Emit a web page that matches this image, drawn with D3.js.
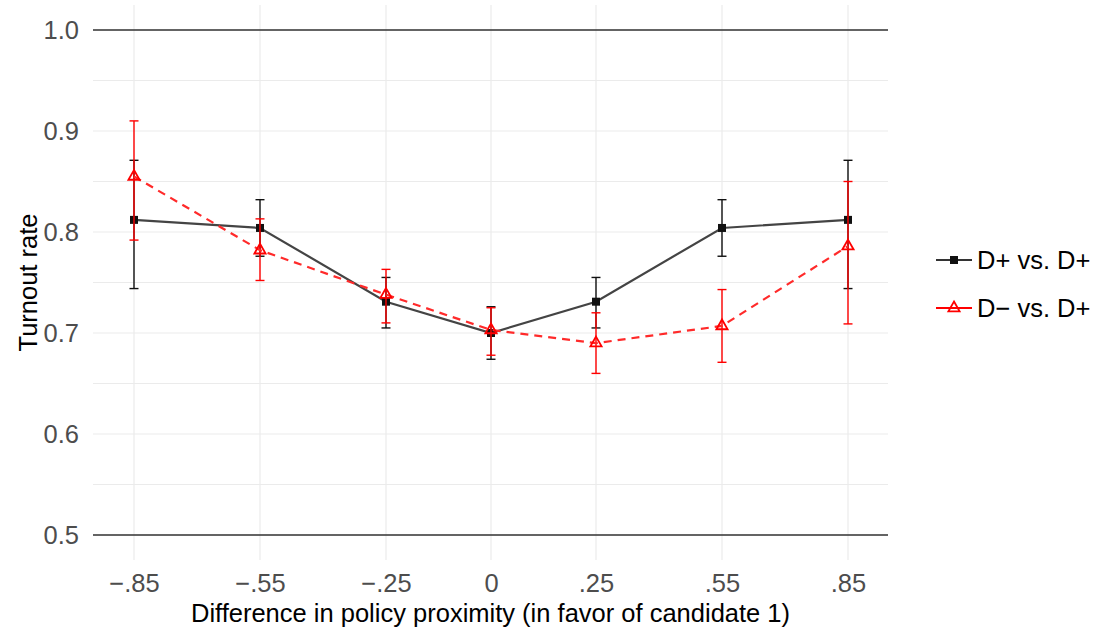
<!DOCTYPE html>
<html>
<head>
<meta charset="utf-8">
<script src="https://cdn.jsdelivr.net/npm/d3@7"></script>
<style>
  body { margin: 0; background: #fff; }
  svg { font-family: "Liberation Sans", Arial, sans-serif; }
</style>
</head>
<body>
<svg width="1096" height="632"></svg>
<script>
const xValues = [-0.85, -0.55, -0.25, 0, 0.25, 0.55, 0.85];
const xLabels = ["\u2212.85", "\u2212.55", "\u2212.25", "0", ".25", ".55", ".85"];
const yTicks = [0.5, 0.6, 0.7, 0.8, 0.9, 1.0];

// D+ vs. D+
const plusMean = [0.812, 0.804, 0.731, 0.700, 0.731, 0.804, 0.812];
const plusLow  = [0.744, 0.776, 0.705, 0.674, 0.705, 0.776, 0.744];
const plusHigh = [0.871, 0.832, 0.755, 0.726, 0.755, 0.832, 0.871];

// D- vs. D+
const minusMean = [0.855, 0.782, 0.738, 0.703, 0.690, 0.707, 0.786];
const minusLow  = [0.792, 0.752, 0.710, 0.678, 0.660, 0.671, 0.709];
const minusHigh = [0.910, 0.813, 0.763, 0.725, 0.720, 0.743, 0.850];

const seriesNames = ["D+ vs. D+", "D\u2212 vs. D+"];

const fontSize = 25.5;
const panel = {left: 93, right: 888, top: 5, bottom: 560};

const x = d3.scaleLinear().domain([-0.85, 0.85]).range([134, 848]);
const y = d3.scaleLinear().domain([0.5, 1.0]).range([535, 30]);

const svg = d3.select("svg");

// grid
const grid = svg.append("g");
grid.selectAll(".hgrid")
  .data(d3.range(0.5, 1.0001, 0.05))
  .enter().append("line")
  .attr("x1", panel.left).attr("x2", panel.right)
  .attr("y1", d => y(d)).attr("y2", d => y(d))
  .attr("stroke", "#ebebeb").attr("stroke-width", 1.2);
grid.selectAll(".vgrid")
  .data(xValues)
  .enter().append("line")
  .attr("x1", d => x(d)).attr("x2", d => x(d))
  .attr("y1", panel.top).attr("y2", panel.bottom)
  .attr("stroke", "#ebebeb").attr("stroke-width", 1.2);

// reference lines at 0.5 and 1.0
svg.append("g").selectAll("line")
  .data([0.5, 1.0])
  .enter().append("line")
  .attr("x1", panel.left).attr("x2", panel.right)
  .attr("y1", d => y(d)).attr("y2", d => y(d))
  .attr("stroke", "#333").attr("stroke-width", 1.3);

// axes (text only, ggplot minimal style)
const yAxis = d3.axisLeft(y).tickValues(yTicks).tickFormat(d3.format(".1f")).tickSize(0).tickPadding(14);
svg.append("g")
  .attr("transform", `translate(${panel.left},0)`)
  .call(yAxis)
  .call(g => g.select(".domain").remove())
  .selectAll("text")
  .attr("font-size", fontSize).attr("fill", "#4d4d4d")
  .attr("font-family", "Liberation Sans, Arial, sans-serif");

const xAxis = d3.axisBottom(x).tickValues(xValues).tickFormat((d, i) => xLabels[i]).tickSize(0).tickPadding(14);
svg.append("g")
  .attr("transform", `translate(0,${panel.bottom})`)
  .call(xAxis)
  .call(g => g.select(".domain").remove())
  .selectAll("text")
  .attr("font-size", fontSize).attr("fill", "#4d4d4d")
  .attr("font-family", "Liberation Sans, Arial, sans-serif");

svg.append("text")
  .attr("x", (panel.left + panel.right) / 2).attr("y", 622)
  .attr("text-anchor", "middle").attr("font-size", fontSize).attr("fill", "#000")
  .text("Difference in policy proximity (in favor of candidate 1)");

svg.append("text")
  .attr("transform", `translate(37,${(y(0.5) + y(1.0)) / 2}) rotate(-90)`)
  .attr("text-anchor", "middle").attr("font-size", fontSize).attr("fill", "#000")
  .text("Turnout rate");

function drawSeries(mean, low, high, opts) {
  const g = svg.append("g");
  const rows = xValues.map((v, i) => ({x: v, m: mean[i], lo: low[i], hi: high[i]}));
  const cap = 4.5;

  g.selectAll(".eb").data(rows).enter().append("line")
    .attr("x1", d => x(d.x)).attr("x2", d => x(d.x))
    .attr("y1", d => y(d.lo)).attr("y2", d => y(d.hi))
    .attr("stroke", opts.barColor).attr("stroke-width", 1.4);
  g.selectAll(".capHi").data(rows).enter().append("line")
    .attr("x1", d => x(d.x) - cap).attr("x2", d => x(d.x) + cap)
    .attr("y1", d => y(d.hi)).attr("y2", d => y(d.hi))
    .attr("stroke", opts.barColor).attr("stroke-width", 1.4);
  g.selectAll(".capLo").data(rows).enter().append("line")
    .attr("x1", d => x(d.x) - cap).attr("x2", d => x(d.x) + cap)
    .attr("y1", d => y(d.lo)).attr("y2", d => y(d.lo))
    .attr("stroke", opts.barColor).attr("stroke-width", 1.4);

  g.append("path")
    .datum(rows)
    .attr("d", d3.line().x(d => x(d.x)).y(d => y(d.m)))
    .attr("fill", "none")
    .attr("stroke", opts.lineColor)
    .attr("stroke-width", 2.2)
    .attr("stroke-dasharray", opts.dash);

  g.selectAll(".pt").data(rows).enter().append("path")
    .attr("transform", d => `translate(${x(d.x)},${y(d.m)})`)
    .attr("d", opts.shape)
    .attr("fill", opts.fill)
    .attr("stroke", opts.barColor)
    .attr("stroke-width", opts.fill === "none" ? 1.8 : 0);
}

const squarePath = "M-4,-4H4V4H-4Z";
const trianglePath = "M0,-6.5L5.6,3.3H-5.6Z";

drawSeries(plusMean, plusLow, plusHigh,
  {barColor: "#111", lineColor: "#444", dash: null, shape: squarePath, fill: "#111"});
drawSeries(minusMean, minusLow, minusHigh,
  {barColor: "#ff0000", lineColor: "#ff2a2a", dash: "8,6", shape: trianglePath, fill: "none"});

// legend
const legend = svg.append("g");
const legendRows = [
  {name: seriesNames[0], color: "#111", line: "#333", shape: squarePath, fill: "#111"},
  {name: seriesNames[1], color: "#ff0000", line: "#ff0000", shape: trianglePath, fill: "none"}
];
legendRows.forEach((r, i) => {
  const cy = 260 + i * 48;
  legend.append("line")
    .attr("x1", 936).attr("x2", 972).attr("y1", cy).attr("y2", cy)
    .attr("stroke", r.line).attr("stroke-width", 2);
  legend.append("path")
    .attr("transform", `translate(954,${cy})`)
    .attr("d", r.shape)
    .attr("fill", r.fill)
    .attr("stroke", r.color)
    .attr("stroke-width", r.fill === "none" ? 1.8 : 0);
  legend.append("text")
    .attr("x", 977).attr("y", cy + 9)
    .attr("font-size", fontSize).attr("fill", "#000")
    .text(r.name);
});
</script>
</body>
</html>
